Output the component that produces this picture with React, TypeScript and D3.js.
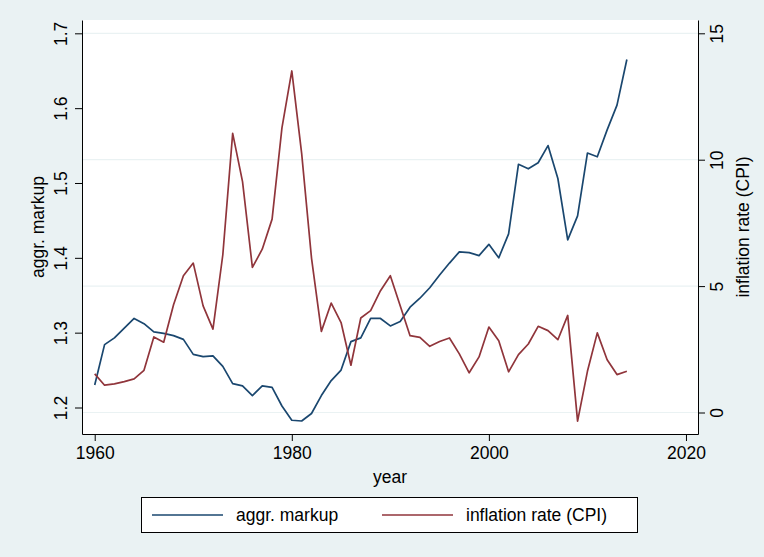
import * as d3 from "d3";
import { useEffect, useRef } from "react";

const years = d3.range(1960, 2015);

const markup = [
  1.23, 1.284, 1.293, 1.306, 1.319, 1.312, 1.301, 1.299, 1.296, 1.291,
  1.271, 1.268, 1.269, 1.255, 1.232, 1.229, 1.216, 1.229, 1.227, 1.202,
  1.183, 1.182, 1.192, 1.216, 1.236, 1.25, 1.288, 1.293, 1.319, 1.319,
  1.309, 1.315, 1.334, 1.346, 1.36, 1.377, 1.393, 1.408, 1.407, 1.403,
  1.418, 1.4, 1.432, 1.525, 1.519, 1.527, 1.55, 1.506, 1.424, 1.456,
  1.54, 1.535, 1.571, 1.604, 1.665,
];

const inflation = [
  1.53, 1.08, 1.13, 1.22, 1.33, 1.67, 2.99, 2.78, 4.26, 5.41,
  5.91, 4.22, 3.3, 6.24, 11.04, 9.13, 5.74, 6.46, 7.65, 11.26,
  13.51, 10.25, 6.11, 3.21, 4.33, 3.56, 1.87, 3.74, 4.03, 4.82,
  5.41, 4.22, 3.04, 2.97, 2.62, 2.81, 2.95, 2.32, 1.57, 2.2,
  3.38, 2.84, 1.61, 2.29, 2.71, 3.41, 3.24, 2.88, 3.84, -0.34,
  1.63, 3.15, 2.09, 1.5, 1.63,
];

const xTicks = [1960, 1980, 2000, 2020];
const markupTicks = [1.2, 1.3, 1.4, 1.5, 1.6, 1.7];
const inflationTicks = [0, 5, 10, 15];

const seriesNames = ["aggr. markup", "inflation rate (CPI)"];

const App = () => {
  const ref = useRef<SVGSVGElement | null>(null);

  useEffect(() => {
    const width = 764;
    const height = 557;
    const bg = "#eaf2f3";
    const blue = "#1a476f";
    const red = "#90353b";
    const font = "Helvetica, 'Liberation Sans', Arial, sans-serif";
    const fs = "17.5px";

    const svg = d3.select(ref.current);
    svg.selectAll("*").remove();
    svg.attr("width", width).attr("height", height);

    const plot = { left: 82, right: 698, top: 20, bottom: 434 };

    svg.append("rect").attr("width", width).attr("height", height).attr("fill", bg);
    svg
      .append("rect")
      .attr("x", plot.left)
      .attr("y", plot.top)
      .attr("width", plot.right - plot.left)
      .attr("height", plot.bottom - plot.top)
      .attr("fill", "#fff");

    // scales (domains padded so the axis lines span the whole plot region)
    const x = d3.scaleLinear().domain([1958.71, 2021.22]).range([plot.left, plot.right]);
    const yL = d3.scaleLinear().domain([1.1646, 1.7178]).range([plot.bottom, plot.top]);
    const yR = d3.scaleLinear().domain([-0.85, 15.526]).range([plot.bottom, plot.top]);

    // gridlines follow the right axis
    svg
      .append("g")
      .selectAll("line")
      .data(inflationTicks)
      .enter()
      .append("line")
      .attr("x1", plot.left)
      .attr("x2", plot.right)
      .attr("y1", (d) => yR(d))
      .attr("y2", (d) => yR(d))
      .attr("stroke", bg)
      .attr("stroke-width", 1.2);

    const styleAxis = (g: any) => {
      g.selectAll("path").attr("stroke", "#000").attr("stroke-width", 1);
      g.selectAll("line").attr("stroke", "#000").attr("stroke-width", 1);
      g.selectAll("text")
        .style("font-family", font)
        .style("font-size", fs)
        .attr("fill", "#000");
    };

    // x axis
    const xAxis = svg
      .append("g")
      .attr("transform", `translate(0, ${plot.bottom})`)
      .call(d3.axisBottom(x).tickValues(xTicks).tickFormat(d3.format("d")).tickSize(7).tickSizeOuter(0));
    styleAxis(xAxis);
    xAxis.selectAll("text").attr("y", 25).attr("dy", 0);

    // left axis
    const lAxis = svg
      .append("g")
      .attr("transform", `translate(${plot.left}, 0)`)
      .call(d3.axisLeft(yL).tickValues(markupTicks).tickFormat(d3.format(".1f")).tickSize(7).tickSizeOuter(0));
    styleAxis(lAxis);
    lAxis
      .selectAll("text")
      .attr("x", 0)
      .attr("y", -15.5)
      .attr("dy", 0)
      .attr("transform", "rotate(-90)")
      .style("text-anchor", "middle");

    // right axis
    const rAxis = svg
      .append("g")
      .attr("transform", `translate(${plot.right}, 0)`)
      .call(d3.axisRight(yR).tickValues(inflationTicks).tickFormat(d3.format("d")).tickSize(7).tickSizeOuter(0));
    styleAxis(rAxis);
    rAxis
      .selectAll("text")
      .attr("x", 0)
      .attr("y", 25)
      .attr("dy", 0)
      .attr("transform", "rotate(-90)")
      .style("text-anchor", "middle");

    // axis titles
    const midY = (plot.top + plot.bottom) / 2;
    svg
      .append("text")
      .attr("transform", `translate(44, ${midY}) rotate(-90)`)
      .style("text-anchor", "middle")
      .style("font-family", font)
      .style("font-size", fs)
      .text("aggr. markup");
    svg
      .append("text")
      .attr("transform", `translate(749, ${midY}) rotate(-90)`)
      .style("text-anchor", "middle")
      .style("font-family", font)
      .style("font-size", fs)
      .text("inflation rate (CPI)");
    svg
      .append("text")
      .attr("x", (plot.left + plot.right) / 2)
      .attr("y", 483)
      .style("text-anchor", "middle")
      .style("font-family", font)
      .style("font-size", fs)
      .text("year");

    // lines
    const lineL = d3
      .line<number>()
      .x((_, i) => x(years[i]))
      .y((d) => yL(d));
    const lineR = d3
      .line<number>()
      .x((_, i) => x(years[i]))
      .y((d) => yR(d));

    svg
      .append("path")
      .datum(markup)
      .attr("d", lineL)
      .attr("fill", "none")
      .attr("stroke", blue)
      .attr("stroke-width", 1.7)
      .attr("stroke-linejoin", "round");
    svg
      .append("path")
      .datum(inflation)
      .attr("d", lineR)
      .attr("fill", "none")
      .attr("stroke", red)
      .attr("stroke-width", 1.7)
      .attr("stroke-linejoin", "round");

    // legend
    const legend = svg.append("g");
    legend
      .append("rect")
      .attr("x", 141.5)
      .attr("y", 497.5)
      .attr("width", 496)
      .attr("height", 35)
      .attr("fill", "#fff")
      .attr("stroke", "#000")
      .attr("stroke-width", 1);
    const items = [
      { name: seriesNames[0], color: blue, x0: 152 },
      { name: seriesNames[1], color: red, x0: 382 },
    ];
    items.forEach((it) => {
      legend
        .append("line")
        .attr("x1", it.x0)
        .attr("x2", it.x0 + 71)
        .attr("y1", 515)
        .attr("y2", 515)
        .attr("stroke", it.color)
        .attr("stroke-width", 1.7);
      legend
        .append("text")
        .attr("x", it.x0 + 84)
        .attr("y", 521)
        .style("font-family", font)
        .style("font-size", fs)
        .text(it.name);
    });
  }, []);

  return (
    <svg ref={ref} style={{ position: "absolute", left: 0, top: 0 }}></svg>
  );
};

export default App;
